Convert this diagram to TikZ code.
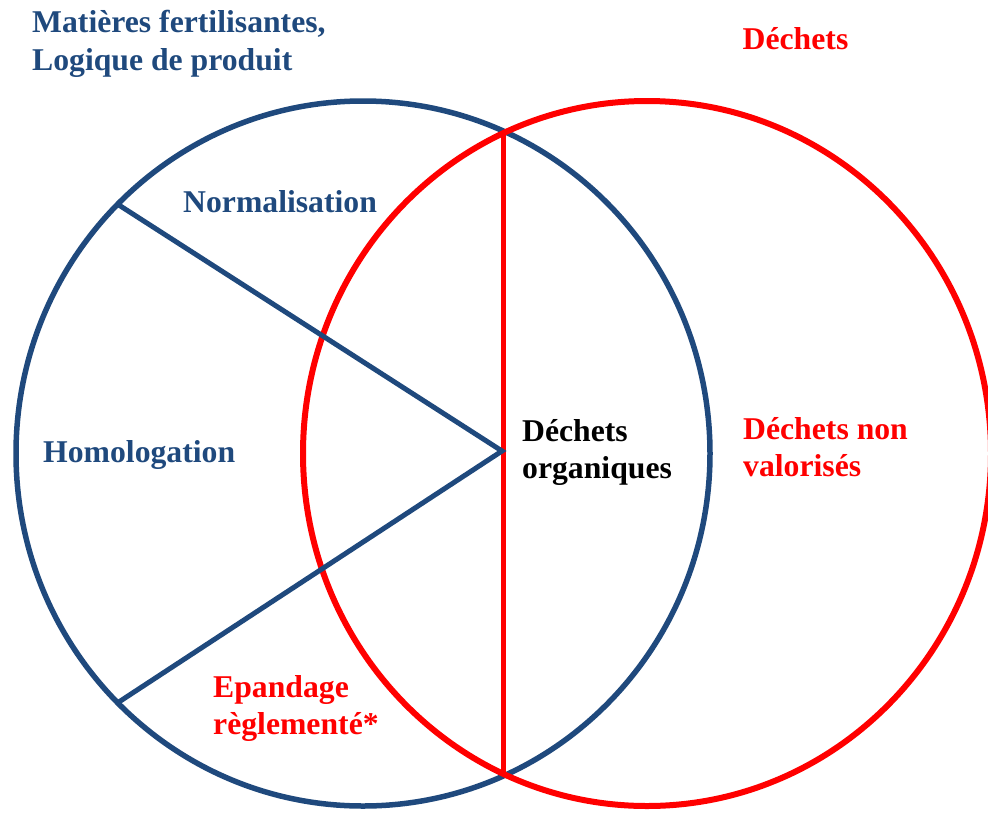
\documentclass[tikz,border=0pt]{standalone}
\usepackage{fontspec}
\setmainfont{Liberation Serif}
\usetikzlibrary{shapes.geometric}
\definecolor{dblue}{HTML}{1F497D}
\definecolor{dred}{HTML}{FF0000}
\begin{document}
\begin{tikzpicture}[x=1pt,y=-1pt,
  lbl/.style={anchor=base west,inner sep=0pt,font=\bfseries\fontsize{31.7}{37}\selectfont},
  bluelbl/.style={lbl,text=dblue},
  redlbl/.style={lbl,text=dred},
  blklbl/.style={lbl,text=black},
  ring/.style={ellipse,inner sep=0pt,outer sep=0pt,minimum width=#1},
  bluering/.style={draw=dblue,line width=5.5pt},
  redring/.style={draw=dred,line width=6pt}]
\useasboundingbox (0,0) rectangle (988,812);
% circles
\node[ellipse,inner sep=0pt,outer sep=0pt,minimum width=694pt,minimum height=705pt,bluering] (blue) at (363,453.5) {};
\node[ellipse,inner sep=0pt,outer sep=0pt,minimum width=688pt,minimum height=705pt,redring] (red) at (647,453.5) {};
% divider
\coordinate (vtop) at (503,132);
\coordinate (vbot) at (503,775);
\draw[dred,line width=5pt] (vtop) -- (vbot);
% blue sector lines
\coordinate (apex) at (502,451);
\coordinate (ul) at (117.6,204.2);
\coordinate (ll) at (117.6,702.8);
\draw[dblue,line width=5pt,line join=miter] (ul) -- (apex) -- (ll);
% labels
\node[bluelbl] (t1) at (32,32) {Matières fertilisantes,};
\node[bluelbl] (t2) at (32,70.5) {Logique de produit};
\node[redlbl] (t3) at (742.5,49) {Déchets};
\node[bluelbl] (t4) at (183,212) {Normalisation};
\node[bluelbl] (t5) at (43,462) {Homologation};
\node[blklbl] (t6) at (522,441) {Déchets};
\node[blklbl] (t7) at (522,478.5) {organiques};
\node[redlbl] (t8) at (743,439.5) {Déchets non};
\node[redlbl] (t9) at (743,476.5) {valorisés};
\node[redlbl] (t10) at (213,697) {Epandage};
\node[redlbl] (t11) at (213,734) {règlementé*};
\end{tikzpicture}
\end{document}
